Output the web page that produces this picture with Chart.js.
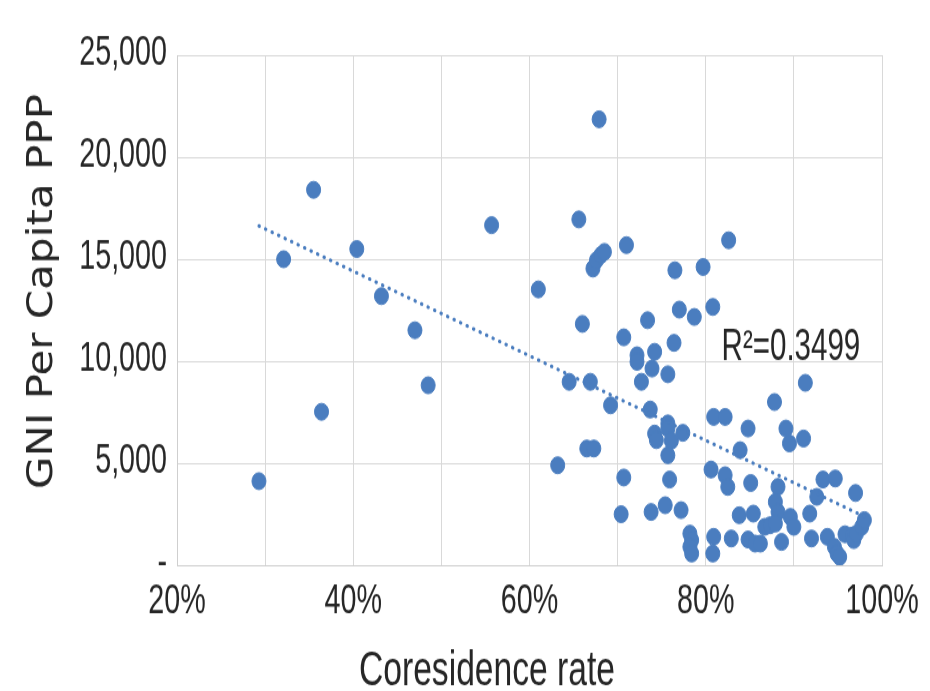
<!DOCTYPE html>
<html>
<head>
<meta charset="utf-8">
<script src="https://cdn.jsdelivr.net/npm/chart.js@4.4.1/dist/chart.umd.min.js"></script>
<style>
  html, body { margin: 0; padding: 0; background: #fff; }
  body { width: 930px; height: 691px; }
  /* the chart is drawn a little squat and stretched vertically */
  #wrap { width: 930px; height: 576px; transform: scaleY(1.2); transform-origin: 0 0; }
</style>
</head>
<body>
<div id="wrap"><canvas id="chart"></canvas></div>
<script>
// coresidence rate (%) and GNI per capita PPP, one entry per country
const coresidence = [
  29.3, 32.1, 35.5, 36.4, 40.4, 43.2, 47.0, 48.5, 55.7, 61.0,
  63.2, 64.5, 65.6, 66.0, 66.5, 66.9, 67.2, 67.3, 67.6, 67.9,
  68.1, 68.5, 69.2, 70.4, 70.7, 70.7, 71.0, 72.2, 72.2, 72.7,
  73.4, 73.7, 73.8, 73.9, 74.2, 74.2, 74.4, 75.4, 75.7, 75.7,
  75.7, 75.7, 75.9, 76.1, 76.4, 76.5, 77.0, 77.2, 77.4, 78.2,
  78.4, 78.2, 78.4, 78.7, 79.7, 80.6, 80.8, 80.9, 80.9, 80.8,
  82.2, 82.2, 82.5, 82.6, 82.9, 83.8, 83.9, 84.8, 84.8, 85.1,
  85.4, 85.6, 86.2, 86.7, 87.3, 87.8, 88.2, 87.9, 88.2, 87.9,
  88.6, 89.1, 89.5, 89.6, 90.0, 91.1, 91.3, 91.8, 92.0, 92.6,
  93.3, 93.8, 94.6, 94.7, 94.9, 95.2, 95.8, 96.6, 97.0, 96.8,
  97.1, 97.7, 98.0
];
const gniPerCapita = [
  4120, 15000, 18400, 7520, 15500, 13190, 11520, 8820, 16670, 13520,
  4900, 8990, 16950, 11830, 5720, 8990, 14540, 5720, 14950, 21860,
  15200, 15360, 7840, 2500, 4300, 11170, 15690, 10290, 9970, 8990,
  12010, 7630, 2610, 9640, 10460, 6450, 6130, 2940, 9360, 6950,
  6700, 5390, 4200, 6100, 10900, 14460, 12530, 2700, 6490, 1550,
  1230, 900, 570, 12170, 14620, 4690, 12660, 7270, 1390, 570,
  7270, 4410, 3840, 15930, 1310, 2450, 5640, 6700, 1260, 4030,
  2530, 1060, 1060, 1880, 1960, 8000, 3840, 3100, 2610, 2040,
  1140, 6700, 5970, 2370, 1880, 6210, 8940, 2530, 1310, 3350,
  4200, 1390, 900, 4250, 570, 410, 1520, 1450, 3540, 1230,
  1550, 1880, 2210
];

// axis ranges
const xRange = { min: 20, max: 100, step: 10, labelEvery: 20 };
const yRange = { min: 0, max: 25000, step: 5000 };

const xTitle = 'Coresidence rate';
const yTitle = 'GNI Per Capita PPP';
const r2Text = 'R\u00b2=0.3499';
const r2Anchor = { x: 81.8, y: 10050 };

const BLUE = '#4a7dbf';
const TEXT = '#262626';
const GRID = '#d9d9d9';
const SANS = '"Liberation Sans", Arial, sans-serif';
const SQUEEZE = 0.82;   // labels use a condensed look

// ordinary least squares for the trend line
function linearFit(xs, ys) {
  const n = xs.length;
  let sx = 0, sy = 0, sxx = 0, sxy = 0;
  for (let i = 0; i < n; i++) {
    sx += xs[i]; sy += ys[i];
    sxx += xs[i] * xs[i]; sxy += xs[i] * ys[i];
  }
  const slope = (n * sxy - sx * sy) / (n * sxx - sx * sx);
  return { slope, intercept: (sy - slope * sx) / n };
}

const fit = linearFit(coresidence, gniPerCapita);
const xLo = Math.min(...coresidence);
const xHi = Math.max(...coresidence);
const trend = [xLo, xHi].map(x => ({ x, y: fit.intercept + fit.slope * x }));

// condensed text: squeeze horizontally around the anchor point
function narrowText(ctx, text, x, y, size, align) {
  ctx.save();
  ctx.translate(x, y);
  ctx.scale(SQUEEZE, 1);
  ctx.font = size + 'px ' + SANS;
  ctx.textAlign = align;
  ctx.textBaseline = 'alphabetic';
  ctx.fillText(text, 0, 0);
  ctx.restore();
}

// tick labels, axis titles and the R² note
const textPlugin = {
  id: 'chartText',
  afterDraw(chart) {
    const ctx = chart.ctx;
    const area = chart.chartArea;
    const xs = chart.scales.x;
    const ys = chart.scales.y;
    ctx.save();
    ctx.fillStyle = TEXT;

    ys.ticks.forEach(t => {
      narrowText(ctx, t.label, area.left - 10, ys.getPixelForValue(t.value) + 7.5, 35, 'right');
    });
    xs.ticks.forEach(t => {
      if (t.label) narrowText(ctx, t.label, xs.getPixelForValue(t.value), area.bottom + 40, 35, 'center');
    });

    narrowText(ctx, xTitle, 487, area.bottom + 100, 41, 'center');
    narrowText(ctx, r2Text, xs.getPixelForValue(r2Anchor.x), ys.getPixelForValue(r2Anchor.y), 36, 'left');

    ctx.font = '35px "DejaVu Sans", sans-serif';
    ctx.textAlign = 'center';
    ctx.textBaseline = 'middle';
    ctx.translate(43, 243);
    ctx.rotate(-Math.PI / 2);
    ctx.fillText(yTitle, 0, 0);
    ctx.restore();
  }
};

new Chart(document.getElementById('chart'), {
  type: 'scatter',
  data: {
    datasets: [
      {
        data: coresidence.map((x, i) => ({ x, y: gniPerCapita[i] })),
        backgroundColor: BLUE,
        borderColor: BLUE,
        pointRadius: 7,
        pointHoverRadius: 7,
        order: 2
      },
      {
        type: 'line',
        data: trend,
        borderColor: BLUE,
        borderWidth: 3,
        borderDash: [0.5, 6.5],
        borderCapStyle: 'round',
        pointRadius: 0,
        fill: false,
        order: 1
      }
    ]
  },
  options: {
    responsive: true,
    maintainAspectRatio: false,
    animation: false,
    layout: { padding: { left: 0, top: 46, right: 48, bottom: 0 } },
    plugins: {
      legend: { display: false },
      tooltip: { enabled: false }
    },
    scales: {
      x: {
        type: 'linear',
        min: xRange.min,
        max: xRange.max,
        ticks: {
          display: false,
          stepSize: xRange.step,
          autoSkip: false,
          callback: v => (v % xRange.labelEvery === 0 ? v + '%' : '')
        },
        grid: { color: GRID, drawTicks: false },
        border: { color: '#cfcfcf' },
        afterFit: s => { s.height = 105; }
      },
      y: {
        min: yRange.min,
        max: yRange.max,
        ticks: {
          display: false,
          stepSize: yRange.step,
          callback: v => (v === 0 ? '-' : v.toLocaleString('en-US'))
        },
        grid: { color: GRID, drawTicks: false },
        border: { color: '#cfcfcf' },
        afterFit: s => { s.width = 177; }
      }
    }
  },
  plugins: [textPlugin]
});
</script>
</body>
</html>
